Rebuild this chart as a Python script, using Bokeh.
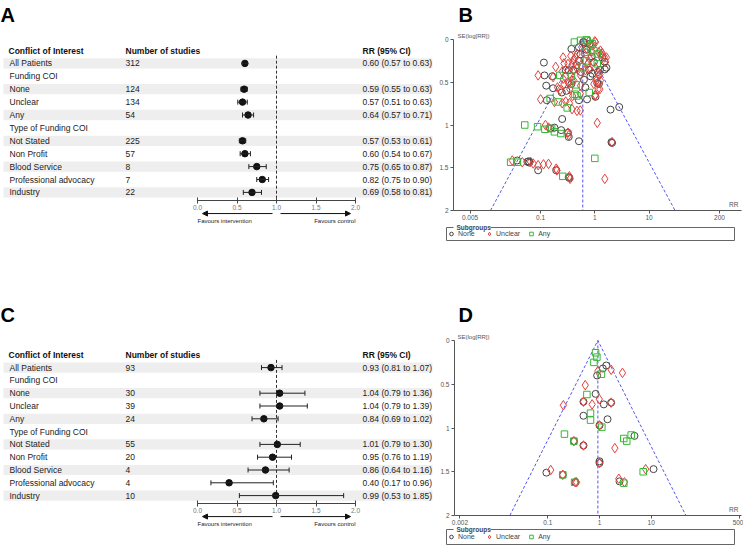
import numpy as np
from bokeh.plotting import figure
from bokeh.layouts import column, row
from bokeh.models import (Range1d, LinearAxis, LogAxis, LogScale, FixedTicker, PrintfTickFormatter,
                          Arrow, NormalHead, Whisker, TeeHead, ColumnDataSource, Legend, LegendItem)
from bokeh.core.properties import value
from bokeh.embed import file_html
from bokeh.resources import INLINE

FONT_NAME = "Liberation Sans"
FONT = value(FONT_NAME)

# ---------------- forest plot data ----------------
ROW_LABELS = ["All Patients", "Funding COI", "None", "Unclear", "Any", "Type of Funding COI",
              "Not Stated", "Non Profit", "Blood Service", "Professional advocacy", "Industry"]

A_N = ["312", "", "124", "134", "54", "", "225", "57", "8", "7", "22"]
A_RR = [0.60, None, 0.59, 0.57, 0.64, None, 0.57, 0.60, 0.75, 0.82, 0.69]
A_LO = [0.57, None, 0.55, 0.51, 0.57, None, 0.53, 0.54, 0.65, 0.75, 0.58]
A_HI = [0.63, None, 0.63, 0.63, 0.71, None, 0.61, 0.67, 0.87, 0.90, 0.81]

C_N = ["93", "", "30", "39", "24", "", "55", "20", "4", "4", "10"]
C_RR = [0.93, None, 1.04, 1.04, 0.84, None, 1.01, 0.95, 0.86, 0.40, 0.99]
C_LO = [0.81, None, 0.79, 0.79, 0.69, None, 0.79, 0.76, 0.64, 0.17, 0.53]
C_HI = [1.07, None, 1.36, 1.39, 1.02, None, 1.30, 1.19, 1.16, 0.96, 1.85]

FOREST_TICKS = [0.0, 0.5, 1.0, 1.5, 2.0]
NULL_EFFECT = 1.0

# ---------------- funnel plot data ----------------
SE_TICKS = [0, 0.5, 1, 1.5, 2]
B_RR_TICKS = [0.005, 0.1, 1, 10, 200]
D_RR_TICKS = [0.002, 0.1, 1, 10, 500]
SUBGROUPS = ["None", "Unclear", "Any"]

B_NONE_RR = [0.61, 0.37, 1.51, 1.53, 0.115, 0.118, 0.164, 0.33, 0.46, 1.14, 1.19, 1.03, 0.72, 0.51, 1.95,
             2.82, 0.25, 0.33, 0.51, 0.127, 0.17, 0.246, 0.13, 0.63, 0.51, 0.545, 1.37, 0.51, 0.96, 0.40,
             0.78, 1.24, 0.83, 0.63, 0.29, 0.37, 0.67, 1.11, 0.30, 1.64, 0.037, 0.057, 0.062, 0.090, 0.194,
             0.33, 0.34, 0.15, 0.18, 0.24, 0.32, 2.03, 2.08, 0.06, 0.80, 0.70, 0.88, 0.55, 0.90]
B_NONE_SE = [0.03, 0.11, 0.26, 0.35, 0.27, 0.42, 0.43, 0.36, 0.30, 0.38, 0.52, 0.67, 0.70, 0.71, 0.82,
             0.79, 0.93, 1.14, 1.19, 0.54, 0.57, 0.62, 0.71, 0.03, 0.09, 0.175, 0.21, 0.25, 0.265, 0.355,
             0.355, 0.355, 0.43, 0.47, 0.355, 0.52, 0.56, 0.51, 0.60, 0.33, 1.415, 1.43, 1.44, 1.53, 1.53,
             1.61, 1.62, 1.04, 1.03, 1.06, 1.09, 1.20, 1.21, 1.425, 0.05, 0.12, 0.20, 0.38, 0.40]
B_UNC_RR = [1.0, 1.27, 1.37, 1.64, 0.26, 0.19, 0.09, 0.40, 0.27, 0.41, 0.78, 1.24, 1.07, 1.24, 1.0,
            0.54, 1.11, 0.36, 0.17, 0.205, 0.27, 0.33, 0.38, 0.39, 1.03, 1.15, 0.10, 0.18, 0.25, 0.29,
            0.34, 0.38, 0.47, 0.54, 0.14, 0.123, 0.32, 0.33, 2.08, 1.53, 0.030, 0.046, 0.073, 0.090, 0.113,
            0.14, 0.194, 0.20, 0.34, 0.35, 0.065, 0.78, 1.03, 0.93, 0.59, 1.18, 1.30, 1.51, 0.47, 0.44,
            0.63, 0.81, 0.32, 0.38, 0.47, 0.67, 1.03, 0.345, 0.545, 1.18, 0.41, 0.25, 0.26, 0.32, 0.545,
            0.96, 0.23, 0.345, 1.58, 1.27, 0.70, 0.88, 0.75, 0.56]
B_UNC_SE = [0.02, 0.13, 0.16, 0.21, 0.21, 0.32, 0.42, 0.24, 0.28, 0.36, 0.34, 0.41, 0.48, 0.58, 0.655,
            0.635, 0.975, 0.19, 0.44, 0.56, 0.52, 0.51, 0.48, 0.66, 0.65, 0.58, 0.70, 0.73, 0.745, 0.725,
            0.745, 0.815, 0.835, 0.83, 1.03, 1.0, 1.09, 1.12, 1.20, 1.63, 1.415, 1.435, 1.45, 1.47, 1.46,
            1.455, 1.51, 1.53, 1.60, 1.63, 1.43, 0.02, 0.03, 0.07, 0.11, 0.15, 0.17, 0.21, 0.17, 0.21,
            0.24, 0.23, 0.285, 0.30, 0.34, 0.36, 0.33, 0.40, 0.42, 0.42, 0.48, 0.375, 0.46, 0.50, 0.54,
            0.52, 0.59, 0.58, 0.265, 0.48, 0.10, 0.14, 0.28, 0.30]
B_ANY_RR = [0.72, 0.42, 0.545, 0.70, 0.83, 0.96, 1.11, 0.70, 0.59, 1.11, 0.37, 0.45, 0.226, 0.43, 0.47,
            0.79, 0.15, 0.21, 0.31, 0.051, 0.088, 0.12, 0.16, 0.18, 0.236, 1.0, 0.028, 0.037, 0.257, 0.65,
            0.90]
B_ANY_SE = [0.01, 0.03, 0.01, 0.005, 0.08, 0.13, 0.17, 0.25, 0.32, 0.285, 0.43, 0.53, 0.42, 0.64, 0.66,
            0.62, 0.69, 0.73, 0.80, 1.0, 1.02, 1.05, 1.04, 1.08, 1.10, 1.39, 1.435, 1.435, 1.60, 0.15,
            0.05]

D_NONE_RR = [1.35, 1.16, 0.90, 0.84, 1.21, 1.68, 0.49, 0.49, 1.43, 1.0, 0.32, 0.49, 4.75, 1.0, 0.094,
             0.195, 0.34, 2.44, 11.1, 1.0]
D_NONE_SE = [0.286, 0.32, 0.40, 0.61, 0.73, 0.71, 0.70, 0.86, 0.90, 0.97, 1.15, 1.20, 1.09, 1.40, 1.51,
             1.535, 1.62, 1.61, 1.47, 1.38]
D_UNC_RR = [0.93, 1.68, 2.78, 0.53, 0.99, 0.72, 1.68, 0.49, 0.20, 1.0, 0.32, 0.49, 1.98, 1.0, 0.114,
            0.195, 0.34, 0.36, 2.36, 3.04, 7.8]
D_UNC_SE = [0.35, 0.335, 0.37, 0.51, 0.67, 0.73, 0.71, 0.70, 0.74, 0.97, 1.15, 1.20, 1.23, 1.40, 1.48,
            1.535, 1.62, 1.62, 1.58, 1.62, 1.47]
D_ANY_RR = [0.84, 0.89, 0.78, 1.09, 0.57, 0.67, 0.67, 1.11, 0.21, 4.1, 2.95, 3.37, 0.195, 0.33, 2.95,
            7.0, 0.32]
D_ANY_SE = [0.14, 0.19, 0.25, 0.385, 0.617, 0.83, 0.91, 0.99, 1.07, 1.08, 1.12, 1.15, 1.535, 1.62, 1.63,
            1.50, 1.15]

TXT = "#222222"
AX = "#555555"
W_LEFT, W_RIGHT = 435, 308
H_TOP, H_BOT = 300, 246


def forest(letter, rr_head, n, rr, lo, hi, height, head_px, pitch, letter_top):
    W = W_LEFT
    X0, U = 197.0, 79.0

    def fx(px):
        return (px - X0) / U

    def fy(py):
        return (py - head_px) / pitch

    p = figure(width=W, height=height, x_range=Range1d(fx(0), fx(W)),
               y_range=Range1d(fy(height), fy(0)), x_axis_type=None, y_axis_type=None,
               output_backend="svg", toolbar_location=None, min_border=0,
               outline_line_color=None)
    rows = list(range(1, len(ROW_LABELS) + 1))
    shaded = rows[0::2]
    p.quad(left=fx(3), right=fx(432), bottom=[r + 0.4 for r in shaded],
           top=[r - 0.4 for r in shaded], fill_color="#eeeeee", line_color=None)

    p.text(x=[fx(8), fx(125), fx(362)], y=[0, 0, 0],
           text=["Conflict of Interest", "Number of studies", rr_head],
           text_font=FONT, text_font_style="bold", text_font_size="8.5px",
           text_baseline="middle", text_color="#111111")
    p.text(x=fx(9), y=rows, text=ROW_LABELS, text_font=FONT, text_font_size="8.5px",
           text_baseline="middle", text_color=TXT)
    p.text(x=fx(125), y=rows, text=n, text_font=FONT, text_font_size="8.5px",
           text_baseline="middle", text_color=TXT)

    est = [(r, a, b, c) for r, a, b, c in zip(rows, rr, lo, hi) if a is not None]
    src = ColumnDataSource(dict(
        y=[e[0] for e in est], rr=[e[1] for e in est], lo=[e[2] for e in est],
        hi=[e[3] for e in est],
        lab=[f"{e[1]:.2f} ({e[2]:.2f} to {e[3]:.2f})" for e in est]))

    axis_row = 11.6
    p.line([NULL_EFFECT, NULL_EFFECT], [0.4, axis_row], line_dash="3 2", line_color="#333333",
           line_width=1)
    p.add_layout(Whisker(source=src, base="y", lower="lo", upper="hi", dimension="width",
                         level="annotation", line_color="#222222", line_width=1,
                         lower_head=TeeHead(size=5, line_color="#222222", line_width=1),
                         upper_head=TeeHead(size=5, line_color="#222222", line_width=1)))
    p.scatter("rr", "y", source=src, size=6.5, color="#111111")
    p.text(x=fx(362), y="y", text="lab", source=src, text_font=FONT, text_font_size="8.5px",
           text_baseline="middle", text_color=TXT)

    ax = LinearAxis(fixed_location=axis_row, bounds=(FOREST_TICKS[0], FOREST_TICKS[-1]),
                    ticker=FixedTicker(ticks=FOREST_TICKS),
                    formatter=PrintfTickFormatter(format="%.1f"),
                    major_tick_in=3, major_tick_out=3, minor_tick_in=0, minor_tick_out=0,
                    major_label_text_font=FONT_NAME, major_label_text_font_size="6.5px",
                    major_label_text_color="#777777", major_label_standoff=2,
                    axis_line_color="#444444", major_tick_line_color="#444444")
    p.add_layout(ax, "below")

    arr_row = 12.64
    p.add_layout(Arrow(end=NormalHead(size=5, fill_color="#111111", line_color="#111111"),
                       x_start=fx(272), x_end=fx(202), y_start=arr_row, y_end=arr_row,
                       line_color="#111111", line_width=1))
    p.add_layout(Arrow(end=NormalHead(size=5, fill_color="#111111", line_color="#111111"),
                       x_start=fx(280), x_end=fx(350), y_start=arr_row, y_end=arr_row,
                       line_color="#111111", line_width=1))
    p.text(x=[FOREST_TICKS[0]], y=[13.2], text=["Favours intervention"], text_font=FONT,
           text_font_size="6px", text_baseline="middle", text_align="left", text_color=TXT)
    p.text(x=[FOREST_TICKS[-1]], y=[13.2], text=["Favours control"], text_font=FONT,
           text_font_size="6px", text_baseline="middle", text_align="right", text_color=TXT)

    p.text(x=[fx(0)], y=[fy(letter_top)], text=[letter], text_font=FONT,
           text_font_style="bold", text_font_size="20px", text_baseline="top",
           text_color="#000000")
    return p


def funnel(letter, data, pooled, ticks, height, one_px, dec, yaxis_px, se0_px, se2_px, box_top,
           box_h, letter_top):
    W = W_RIGHT

    def fx(px):
        return 10 ** ((px - one_px) / dec)

    def fy(py):
        return (py - se0_px) / (se2_px - se0_px) * 2

    p = figure(width=W, height=height, x_range=Range1d(fx(0), fx(W)),
               y_range=Range1d(fy(height), fy(0)), x_axis_type=None, y_axis_type=None,
               output_backend="svg", toolbar_location=None, min_border=0,
               outline_line_color=None)
    p.x_scale = LogScale()

    se_max = SE_TICKS[-1]
    lo2 = pooled * np.exp(-1.96 * se_max)
    hi2 = pooled * np.exp(1.96 * se_max)
    p.line([lo2, pooled, hi2], [se_max, 0, se_max], line_dash="3 2", line_color="#5555ee",
           line_width=1)
    p.line([pooled, pooled], [0, se_max], line_dash="3 2", line_color="#5555ee", line_width=1)

    styles = [("circle", 7, "#444444"), ("diamond", 9.5, "#e2413b"), ("square", 6.5, "#36b836")]
    items = []
    for (rr, se), name, (mk, sz, col) in zip(data, SUBGROUPS, styles):
        r = p.scatter(rr, se, marker=mk, size=sz, fill_color=None, line_color=col, line_width=1)
        items.append(LegendItem(label=name, renderers=[r]))

    yax = LinearAxis(fixed_location=fx(yaxis_px), bounds=(SE_TICKS[0], SE_TICKS[-1]),
                     ticker=FixedTicker(ticks=SE_TICKS), formatter=PrintfTickFormatter(format="%g"),
                     major_tick_in=0, major_tick_out=3, minor_tick_in=0, minor_tick_out=0,
                     major_label_text_font=FONT_NAME, major_label_text_font_size="6.5px",
                     major_label_text_color=AX, major_label_standoff=2,
                     axis_line_color=AX, major_tick_line_color=AX)
    p.add_layout(yax, "left")
    xax = LogAxis(fixed_location=se_max, bounds=(fx(yaxis_px), fx(W - 2)),
                  ticker=FixedTicker(ticks=ticks), formatter=PrintfTickFormatter(format="%g"),
                  major_tick_in=0, major_tick_out=3, minor_tick_in=0, minor_tick_out=0,
                  major_label_text_font=FONT_NAME, major_label_text_font_size="6.5px",
                  major_label_text_color=AX, major_label_standoff=1,
                  axis_line_color=AX, major_tick_line_color=AX)
    p.add_layout(xax, "below")

    p.text(x=[fx(22)], y=[fy(se0_px - 4)], text=["SE(log[RR])"], text_font=FONT,
           text_font_size="6px", text_baseline="middle", text_color=AX)
    p.text(x=[fx(303)], y=[fy(se2_px - 6)], text=["RR"], text_font=FONT,
           text_font_size="6.5px", text_baseline="middle", text_align="right", text_color=AX)
    p.text(x=[fx(23)], y=[fy(letter_top)], text=[letter], text_font=FONT,
           text_font_style="bold", text_font_size="20px", text_baseline="top",
           text_color="#000000")

    yt, yb = fy(box_top), fy(box_top + box_h)
    p.multi_line(xs=[[fx(18), fx(11), fx(11), fx(299), fx(299), fx(55)]],
                 ys=[[yt, yt, yb, yb, yt, yt]], line_color="#666666", line_width=1)
    p.text(x=[fx(21)], y=[yt], text=["Subgroups"], text_font=FONT, text_font_style="bold",
           text_font_size="6.5px", text_baseline="middle", text_color="#444444")

    leg = Legend(items=items, location=(11, height - (box_top + box_h // 2 + 5)),
                 orientation="horizontal",
                 border_line_color=None, background_fill_alpha=0, padding=0, margin=0,
                 spacing=6, label_text_font=FONT_NAME, label_text_font_size="7px",
                 label_text_color="#444444", glyph_width=10, glyph_height=9, label_height=9,
                 label_standoff=2)
    p.add_layout(leg)
    return p


pA = forest("A", "RR (95% CI)", A_N, A_RR, A_LO, A_HI, H_TOP, 50, 12.9, 3)
pC = forest("C", "RR (95% CI)", C_N, C_RR, C_LO, C_HI, H_BOT, 54.3, 12.8, 3)
pB = funnel("B", [(B_NONE_RR, B_NONE_SE), (B_UNC_RR, B_UNC_SE), (B_ANY_RR, B_ANY_SE)],
            A_RR[0], B_RR_TICKS, H_TOP, 159.3, 54.2, 18, 39, 210, 227, 13, 3)
pD = funnel("D", [(D_NONE_RR, D_NONE_SE), (D_UNC_RR, D_UNC_SE), (D_ANY_RR, D_ANY_SE)],
            C_RR[0], D_RR_TICKS, H_BOT, 164, 51.7, 19, 40, 215, 229, 15, 3)

layout = column(row(pA, pB), row(pC, pD))
open("out.html", "w").write(file_html(layout, INLINE))
